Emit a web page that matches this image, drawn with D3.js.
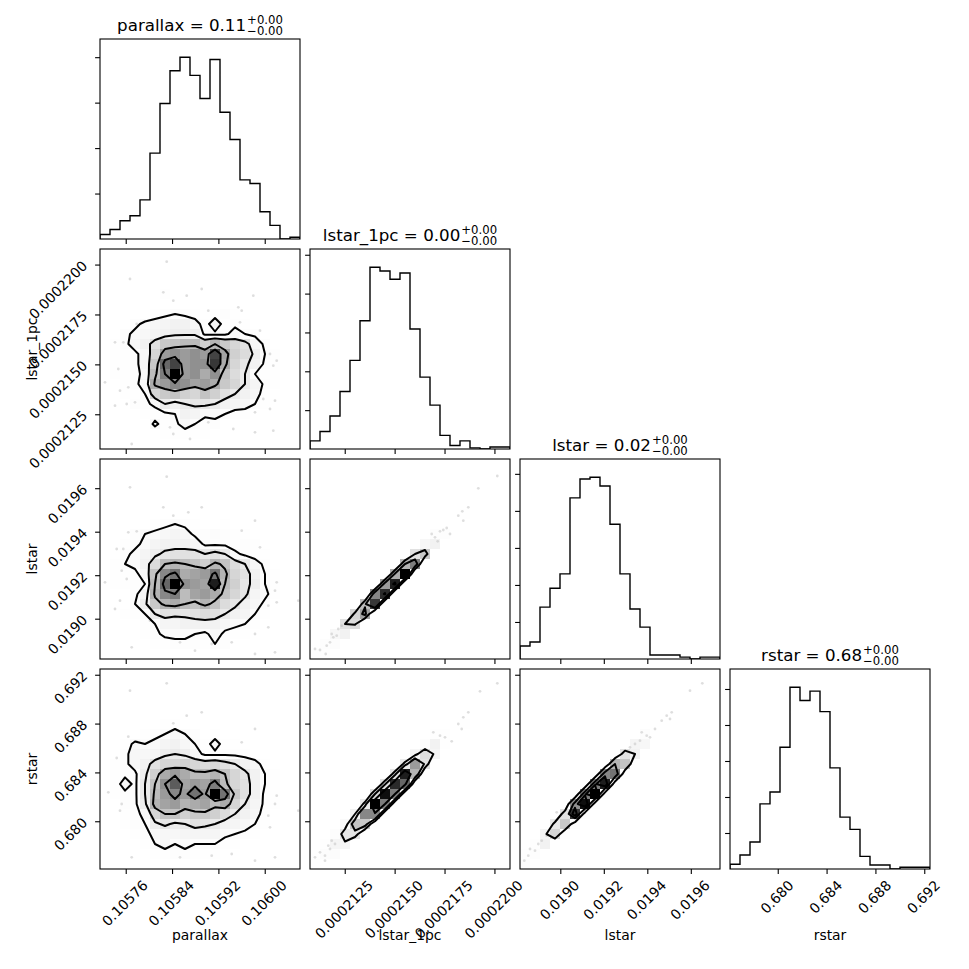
<!DOCTYPE html>
<html>
<head>
<meta charset="utf-8">
<title>corner plot</title>
<script src="https://cdn.jsdelivr.net/npm/d3@7"></script>
<style>
  body { margin: 0; background: #fff; }
  svg text { font-family: "DejaVu Sans", sans-serif; fill: #000; }
</style>
</head>
<body>
<svg id="fig" width="969" height="969"></svg>
<script>
// ---------- values ----------
const names = ["parallax", "lstar_1pc", "lstar", "rstar"];
const ranges = [[0.1057156, 0.1060609], [0.00021076, 0.00022078], [0.0188147, 0.0197342], [0.67609, 0.69247]];
const tickValues = [
  [0.10576, 0.10584, 0.10592, 0.10600],
  [0.0002125, 0.0002150, 0.0002175, 0.0002200],
  [0.0190, 0.0192, 0.0194, 0.0196],
  [0.680, 0.684, 0.688, 0.692]
];
const tickLabels = [
  ["0.10576", "0.10584", "0.10592", "0.10600"],
  ["0.0002125", "0.0002150", "0.0002175", "0.0002200"],
  ["0.0190", "0.0192", "0.0194", "0.0196"],
  ["0.680", "0.684", "0.688", "0.692"]
];
const titleValues = ["0.11", "0.00", "0.02", "0.68"];
const titleUpper = ["+0.00", "+0.00", "+0.00", "+0.00"];
const titleLower = ["\u22120.00", "\u22120.00", "\u22120.00", "\u22120.00"];

// 1D histograms, 20 bins each
const histParallax = [10, 21, 40, 51, 86, 189, 298, 370, 400, 360, 309, 395, 279, 219, 130, 122, 60, 30, 0, 4];
const histLstar1pc = [21, 45, 85, 148, 228, 330, 468, 458, 437, 453, 309, 185, 113, 35, 9, 21, 3, 0, 5, 5];
const histLstar = [35, 46, 140, 191, 230, 435, 486, 491, 467, 364, 230, 135, 86, 11, 11, 11, 5, 0, 5, 5];
const histRstar = [13, 39, 75, 181, 214, 338, 505, 468, 494, 437, 281, 144, 110, 35, 11, 11, 0, 5, 5, 5];
const histTicks = [[100, 200, 300, 400], [100, 200, 300, 400, 500], [100, 200, 300, 400, 500], [100, 200, 300, 400, 500]];

// 2D histograms: 20 rows (first = highest y bin) x 20 columns, one base-36 digit per cell
const grid_lstar1pc_parallax = [
  "00100000000000000000",
  "00000000000000000000",
  "00000000000000000000",
  "00000011000000000000",
  "00001121110010000000",
  "00011111111111100000",
  "00011234321232110000",
  "01135678862723211000",
  "11356789993336431100",
  "12368cghiifjgec73110",
  "12236emnmnmulfd94210",
  "12236grumnnvkeb83210",
  "12235ipzmnknhda42210",
  "11236kmonlmkgea73200",
  "01224eghfehfca862110",
  "011335a8abba87642100",
  "00112234875542211100",
  "00111523642311111000",
  "00011122222111110000",
  "00001111111111000000"
];
const grid_lstar_parallax = [
  "00000001000000000000",
  "00010000000000000000",
  "00000000000000000000",
  "00000000000000000000",
  "00000111100000000000",
  "00001111111001100000",
  "00011234321121100000",
  "01134567633432210000",
  "01235788873332321000",
  "113579bcccaca5322100",
  "12458dijihfjhda63110",
  "12236hoqklmqjec84210",
  "12234irznmlxifb94210",
  "11137jopilmkheb75200",
  "11149gjkihjhdb863110",
  "01224acbbcdca8742100",
  "00112477888865421100",
  "00112355543632211000",
  "00011223332431110000",
  "00001111111111000000"
];
const grid_rstar_parallax = [
  "00000000000000000000",
  "00010001000000000000",
  "00000000000000000000",
  "00000000000000000000",
  "00000111110000000000",
  "00001122111101100000",
  "00012346431211100000",
  "01254578642622110000",
  "0136679a963333211000",
  "12368ceefedeca862100",
  "12339fkmkiijheb84210",
  "1263ahnslmlpiec84210",
  "1233aimomqmzqgc83210",
  "11339jlmjklikea73200",
  "01235ehhfggfda862110",
  "012349b9acba87642100",
  "00123566777754321000",
  "00112464544422110000",
  "00011223322211110000",
  "00001111111111000000"
];
const grid_lstar_lstar1pc = [
  "00000000000000000000",
  "00000000000000000000",
  "00000000000000000000",
  "00000000000000000000",
  "00000000000000000000",
  "00000000000000020000",
  "00000000000001100000",
  "00000000000033000000",
  "00000000000680000000",
  "0000000000cg00000000",
  "000000000jp000000000",
  "00000000kz0000000000",
  "0000000mx00000000000",
  "000000ow000000000000",
  "00000iv0000000000000",
  "0000el00000000000000",
  "000cd000000000000000",
  "00680000000000000000",
  "03400000000000000000",
  "22000000000000000000"
];
const grid_rstar_lstar1pc = [
  "00000000000000000000",
  "00000000000000000000",
  "00000000000000000000",
  "00000000000000000000",
  "00000000000000010000",
  "00000000000000120000",
  "00000000000022100000",
  "00000000000382000000",
  "00000000006d70000000",
  "000000000amc00000000",
  "00000000bxj100000000",
  "0000000cwr2000000000",
  "000000dyp20000000000",
  "00000azp200000000000",
  "00008oo2000000000000",
  "0005hg20000000000000",
  "003bb100000000000000",
  "02771000000000000000",
  "14410000000000000000",
  "22000000000000000000"
];
const grid_rstar_lstar = [
  "00000000000000000000",
  "00000000000000000000",
  "00000000000000000000",
  "00000000000000000000",
  "00000000000000000000",
  "00000000000000100000",
  "00000000000041000000",
  "00000000000760000000",
  "0000000000c800000000",
  "000000000jh100000000",
  "00000000oq2000000000",
  "0000000px20000000000",
  "000000pz300000000000",
  "00000ny3000000000000",
  "0000cv30000000000000",
  "000ag300000000000000",
  "007e2000000000000000",
  "02810000000000000000",
  "23100000000000000000",
  "30000000000000000000"
];

// single samples outside the contours, [x, y] in bins from the lower-left corner
const pts_lstar1pc_parallax = [[6.67,18.73],[3.0,17.0],[10.17,16.0],[6.33,15.67],[8.67,15.33],[7.33,14.83],[13.83,14.17],[15.33,15.33],[14.17,13.83],[10.83,13.83],[16.0,11.83],[1.5,10.67],[2.33,10.67],[3.67,12.5],[14.0,12.67],[17.0,9.5],[17.67,8.83],[17.33,8.33],[1.83,8.0],[0.5,6.67],[2.0,5.83],[2.83,6.17],[2.67,4.5],[3.5,4.67],[1.5,4.33],[10.0,3.0],[10.83,2.67],[13.33,2.0],[15.5,3.67],[15.5,1.67],[17.33,1.83],[3.17,0.5],[7.33,1.5],[9.0,1.0],[7.0,2.17],[16.33,5.0],[17.0,4.0],[17.5,4.83]];
const pts_lstar_parallax = [[6.67,18.23],[3.0,17.17],[6.33,15.17],[7.33,14.33],[8.83,14.67],[10.17,15.17],[15.5,13.83],[14.17,12.83],[2.83,12.67],[3.67,12.77],[1.67,11.0],[2.33,11.0],[16.0,11.17],[0.5,7.67],[2.17,8.83],[2.67,8.0],[17.67,7.67],[17.5,6.83],[2.0,5.83],[1.5,5.0],[16.83,5.33],[17.67,5.67],[19.83,5.83],[5.0,3.83],[3.17,1.17],[8.0,1.67],[11.17,1.5],[13.17,1.67],[15.5,2.5],[16.83,3.17],[15.5,0.5],[17.5,0.67],[9.5,0.83]];
const pts_rstar_parallax = [[6.67,18.57],[3.0,17.83],[10.17,15.67],[8.67,15.33],[7.33,14.57],[14.17,12.67],[15.5,14.0],[2.83,13.23],[3.67,12.77],[1.67,11.1],[16.0,10.33],[0.83,7.67],[2.17,6.5],[2.0,5.83],[17.67,7.33],[17.5,6.5],[19.83,5.83],[16.83,5.33],[17.0,4.17],[5.0,3.83],[3.17,1.17],[8.0,1.17],[11.17,1.33],[13.17,1.5],[15.5,0.83],[17.5,1.17]];
const pts_lstar_lstar1pc = [[0.5,1.0],[1.0,0.9],[1.57,0.5],[1.67,1.33],[2.0,1.67],[2.33,2.17],[2.67,2.33],[2.17,2.5],[2.83,3.0],[3.17,3.33],[12.17,12.5],[12.5,12.17],[12.77,11.77],[13.0,12.77],[13.33,12.9],[13.67,13.1],[14.0,12.5],[14.83,14.33],[15.23,14.77],[15.83,15.17],[15.33,13.83],[16.83,17.07],[18.73,18.3]];
const pts_rstar_lstar1pc = [[0.5,1.17],[1.0,1.67],[1.5,1.33],[1.83,2.33],[2.17,2.83],[2.5,2.5],[1.5,0.83],[2.0,2.0],[12.33,13.67],[13.0,13.33],[13.5,13.17],[14.17,12.77],[14.83,14.5],[15.17,14.0],[15.33,15.17],[15.83,15.67],[17.0,17.77],[18.73,18.57]];
const pts_rstar_lstar = [[0.43,0.83],[0.83,1.33],[1.0,2.0],[1.5,1.83],[1.83,2.5],[2.17,2.83],[2.67,3.33],[2.83,3.5],[3.67,5.67],[10.17,11.5],[11.0,12.17],[11.5,12.5],[12.0,12.83],[12.17,13.67],[12.67,13.33],[13.0,13.17],[13.5,14.0],[14.17,14.83],[14.67,15.33],[15.0,15.0],[15.17,15.67],[17.0,17.83],[18.23,18.57]];

const hists = [histParallax, histLstar1pc, histLstar, histRstar];
const pairs = [
  {row: 1, col: 0, grid: grid_lstar1pc_parallax, pts: pts_lstar1pc_parallax},
  {row: 2, col: 0, grid: grid_lstar_parallax, pts: pts_lstar_parallax},
  {row: 3, col: 0, grid: grid_rstar_parallax, pts: pts_rstar_parallax},
  {row: 2, col: 1, grid: grid_lstar_lstar1pc, pts: pts_lstar_lstar1pc},
  {row: 3, col: 1, grid: grid_rstar_lstar1pc, pts: pts_rstar_lstar1pc},
  {row: 3, col: 2, grid: grid_rstar_lstar, pts: pts_rstar_lstar}
];
const sigmas = [0.5, 1, 1.5, 2];

// ---------- layout ----------
const svg = d3.select("#fig");
const SIZE = 200, STEP = 210, LEFT = 100, TOP = 39;
const TICK = 4.9, PAD = 4.9;
const FS = 13.9, ASC = 0.76 * FS, DESC = 0.208 * FS, R = Math.SQRT1_2;

let xScale = ranges.map((d, c) => d3.scaleLinear().domain(d).range([LEFT + c * STEP, LEFT + c * STEP + SIZE]));
let yScale = ranges.map((d, r) => d3.scaleLinear().domain(d).range([TOP + r * STEP + SIZE, TOP + r * STEP]));

function panelClip(r, c) {
  let id = "clip" + r + c;
  svg.append("clipPath").attr("id", id).append("rect")
    .attr("x", LEFT + c * STEP).attr("y", TOP + r * STEP).attr("width", SIZE).attr("height", SIZE);
  return svg.append("g").attr("clip-path", "url(#" + id + ")");
}

// contour levels the way corner picks them: density that encloses each sigma's mass
function cornerLevels(flat) {
  let sorted = flat.slice().sort((a, b) => b - a);
  let total = d3.sum(sorted);
  let cum = d3.cumsum(sorted);
  let V = sigmas.map(s => {
    let p = 1 - Math.exp(-0.5 * s * s);
    let v = sorted[0];
    for (let i = 0; i < sorted.length; i++) if (cum[i] / total <= p) v = sorted[i];
    return v;
  }).sort(d3.ascending);
  for (let k = 0; k < V.length - 1; k++) {
    if (V[k + 1] === V[k]) { V[k] *= 1 - 1e-4; k = -1; }
  }
  return V;
}

function drawPair(p) {
  let H = p.grid.map(s => Array.from(s, ch => parseInt(ch, 36)));
  let flat = H.flat();
  let hmax = d3.max(flat);
  let V = cornerLevels(flat);
  let xs = xScale[p.col], ys = yScale[p.row];
  let [xlo, xhi] = ranges[p.col], [ylo, yhi] = ranges[p.row];
  let bx = (xhi - xlo) / 20, by = (yhi - ylo) / 20;
  let g = panelClip(p.row, p.col);

  // samples
  g.append("g").selectAll("circle").data(p.pts).join("circle")
    .attr("cx", d => xs(xlo + d[0] * bx))
    .attr("cy", d => ys(ylo + d[1] * by))
    .attr("r", 1.4).attr("fill", "#000").attr("fill-opacity", 0.13);

  let contours = d3.contours().size([20, 20]).thresholds(V)(flat);
  let proj = d3.geoTransform({
    point: function(x, y) { this.stream.point(xs(xlo + x * bx), ys(yhi - y * by)); }
  });
  let path = d3.geoPath(proj);

  // white base under the outer contour hides the samples
  g.append("path").attr("d", path(contours[0])).attr("fill", "#fff").attr("stroke", "none");

  // density map, black at the peak fading to transparent white
  let cells = [];
  H.forEach((row, j) => row.forEach((v, i) => { if (v > 0) cells.push({i: i, j: j, v: v}); }));
  g.append("g").attr("shape-rendering", "crispEdges").selectAll("rect").data(cells).join("rect")
    .attr("x", d => xs(xlo + d.i * bx))
    .attr("width", d => xs(xlo + (d.i + 1) * bx) - xs(xlo + d.i * bx))
    .attr("y", d => ys(yhi - d.j * by))
    .attr("height", d => ys(yhi - (d.j + 1) * by) - ys(yhi - d.j * by))
    .attr("fill", d => { let t = 1 - d.v / hmax; return d3.rgb(255 * t, 255 * t, 255 * t).toString(); })
    .attr("fill-opacity", d => d.v / hmax);

  g.append("g").selectAll("path").data(contours).join("path")
    .attr("d", path)
    .attr("fill", "none").attr("stroke", "#000").attr("stroke-width", 2)
    .attr("stroke-linejoin", "round");

  leftTicks(d3.axisLeft(ys).tickValues(tickValues[p.row]), p.col);
}

function drawHist(k) {
  let counts = hists[k];
  let xs = xScale[k];
  let y0 = TOP + k * STEP;
  let hy = d3.scaleLinear().domain([0, 1.1 * d3.max(counts)]).range([y0 + SIZE, y0]);
  let [lo, hi] = ranges[k];
  let edges = d3.range(21).map(i => lo + i * (hi - lo) / 20);
  let pts = [[edges[0], 0]];
  counts.forEach((n, i) => { pts.push([edges[i], n], [edges[i + 1], n]); });
  pts.push([edges[20], 0]);
  let g = panelClip(k, k);
  g.append("path")
    .attr("d", d3.line().x(d => xs(d[0])).y(d => hy(d[1]))(pts))
    .attr("fill", "none").attr("stroke", "#000").attr("stroke-width", 1.4);
  leftTicks(d3.axisLeft(hy).tickValues(histTicks[k]), k);

  // title with the +/- scripts
  let cx = LEFT + k * STEP + SIZE / 2;
  let base = y0 - 8.3;
  let main = svg.append("text").attr("y", base).attr("font-size", 16.7).text(names[k] + " = " + titleValues[k]);
  let up = svg.append("text").attr("y", base - 6.7).attr("font-size", 11.7).text(titleUpper[k]);
  let dn = svg.append("text").attr("y", base + 4).attr("font-size", 11.7).text(titleLower[k]);
  let wm = main.node().getComputedTextLength();
  let ws = Math.max(up.node().getComputedTextLength(), dn.node().getComputedTextLength());
  let x = cx - (wm + 1 + ws) / 2;
  main.attr("x", x);
  up.attr("x", x + wm + 1);
  dn.attr("x", x + wm + 1);
}

function leftTicks(axis, c) {
  svg.append("g").attr("transform", "translate(" + (LEFT + c * STEP) + ",0)")
    .call(axis.tickSize(TICK).tickSizeOuter(0).tickFormat(""))
    .call(a => a.select(".domain").remove())
    .call(a => a.selectAll("text").remove())
    .selectAll("line").attr("stroke-width", 1.1);
}

function bottomTicks(r, c) {
  svg.append("g").attr("transform", "translate(0," + (TOP + r * STEP + SIZE) + ")")
    .call(d3.axisBottom(xScale[c]).tickValues(tickValues[c]).tickSize(TICK).tickSizeOuter(0).tickFormat(""))
    .call(a => a.select(".domain").remove())
    .call(a => a.selectAll("text").remove())
    .selectAll("line").attr("stroke-width", 1.1);
}

// ---------- draw ----------
pairs.forEach(drawPair);
d3.range(4).forEach(drawHist);

for (let r = 0; r < 4; r++) {
  for (let c = 0; c <= r; c++) {
    bottomTicks(r, c);
    svg.append("rect")
      .attr("x", LEFT + c * STEP).attr("y", TOP + r * STEP).attr("width", SIZE).attr("height", SIZE)
      .attr("fill", "none").attr("stroke", "#000").attr("stroke-width", 1.1);
  }
}

// rotated tick labels, placed like matplotlib places a 45 degree label box
let xLabelTop = TOP + 3 * STEP + SIZE + TICK + PAD;
for (let c = 0; c < 4; c++) {
  tickValues[c].forEach((v, i) => {
    let t = svg.append("text").attr("font-size", FS).text(tickLabels[c][i]);
    let w = t.node().getComputedTextLength();
    let x0 = xScale[c](v) - R * (w + DESC - ASC) / 2;
    let y0 = xLabelTop + R * (w + ASC);
    t.attr("transform", "translate(" + x0 + "," + y0 + ") rotate(-45)");
  });
  svg.append("text").attr("font-size", FS).attr("text-anchor", "middle")
    .attr("x", LEFT + c * STEP + SIZE / 2).attr("y", TOP + 3 * STEP + SIZE + 0.3 * SIZE + ASC)
    .text(names[c]);
}
let yLabelRight = LEFT - TICK - PAD;
for (let r = 1; r < 4; r++) {
  tickValues[r].forEach((v, i) => {
    let t = svg.append("text").attr("font-size", FS).text(tickLabels[r][i]);
    let w = t.node().getComputedTextLength();
    let x0 = yLabelRight - R * (w + DESC);
    let y0 = yScale[r](v) - ASC / 2 + R * (w + ASC);
    t.attr("transform", "translate(" + x0 + "," + y0 + ") rotate(-45)");
  });
  let cy = TOP + r * STEP + SIZE / 2;
  svg.append("text").attr("font-size", FS).attr("text-anchor", "middle")
    .attr("transform", "translate(" + (LEFT - 0.3 * SIZE - DESC) + "," + cy + ") rotate(-90)")
    .text(names[r]);
}
</script>
</body>
</html>
